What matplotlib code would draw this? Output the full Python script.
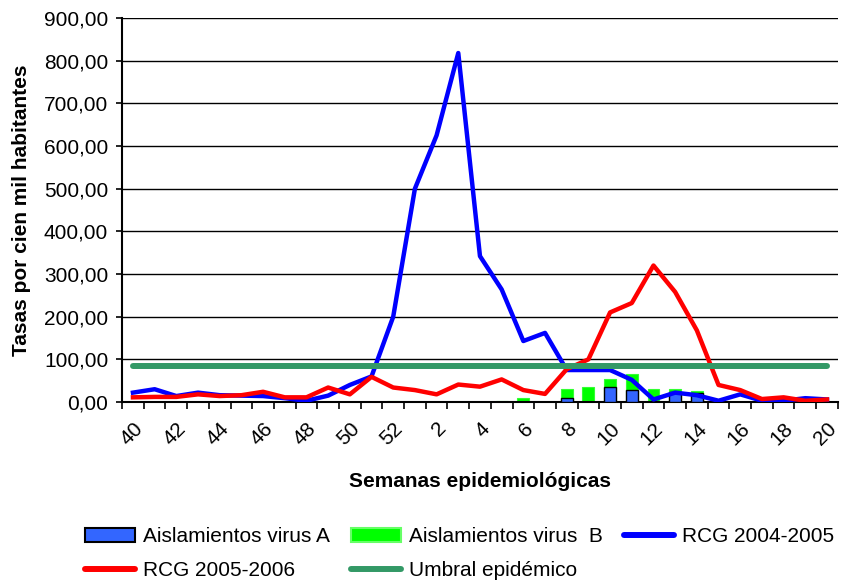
#Tasas de RCG por semana epidemiologica y aislamientos de virus

#Importing libraries:
import numpy as np
import matplotlib
matplotlib.use("Agg")
import matplotlib.pyplot as plt
from matplotlib.patches import Patch
from matplotlib.lines import Line2D
from matplotlib.ticker import FuncFormatter, FixedLocator

#Font selection (Arial look-alike).
font = {'family': 'Liberation Sans',
        'weight': 'normal',
        'size': 15}
matplotlib.rc('font', **font)

#Data.
semanas = [40, 41, 42, 43, 44, 45, 46, 47, 48, 49, 50, 51, 52,
           1, 2, 3, 4, 5, 6, 7, 8, 9, 10, 11, 12, 13, 14, 15, 16, 17, 18, 19, 20]

rcg_0405 = [22, 30, 14, 22, 16, 15, 14, 9, 3, 15, 40, 60, 200,
            500, 625, 818, 342, 264, 143, 162, 75, 75, 75, 52, 6, 22, 16, 3, 18, 3, 3, 9, 6]

rcg_0506 = [11, 12, 12, 18, 14, 16, 24, 11, 11, 34, 18, 59, 34,
            28, 18, 41, 36, 53, 28, 19, 77, 100, 210, 232, 320, 258, 168, 40, 28, 7, 11, 3, 6]

virus_a = [0, 0, 0, 0, 0, 0, 0, 0, 0, 0, 0, 0, 0,
           0, 0, 0, 0, 0, 0, 0, 9, 0, 36, 28, 0, 24, 20, 0, 0, 0, 0, 0, 0]

virus_b = [0, 0, 0, 0, 0, 0, 0, 0, 0, 0, 0, 0, 3,
           0, 0, 0, 0, 3, 9, 0, 30, 36, 54, 65, 30, 30, 26, 0, 0, 0, 0, 0, 0]

umbral = 85

x = np.arange(len(semanas))
umbral_line = np.full(len(semanas), umbral)

#Plotting Block:
fig = plt.figure(figsize=(8.48, 5.84), dpi=100)
ax = fig.add_axes([0.144, 0.3116, 0.844, 0.6575])

ax.bar(x, virus_b, width=0.55, color='#00FF00', edgecolor='#33FF33', linewidth=0.8, zorder=2)
ax.bar(x, virus_a, width=0.55, color='#3366FF', edgecolor='black', linewidth=1.0, zorder=3)
ax.plot(x, rcg_0405, color='#0000FF', linewidth=3.2, zorder=4)
ax.plot(x, rcg_0506, color='#FF0000', linewidth=3.2, zorder=5)
ax.plot(x, umbral_line, color='#339966', linewidth=4.3, solid_capstyle='round', zorder=6)

#Axes
ax.set_xlim(-0.5, len(semanas) - 0.5)
ax.set_ylim(0, 900)
ax.set_yticks(np.arange(0, 901, 100))
ax.yaxis.set_major_formatter(FuncFormatter(lambda v, p: f"{v:.2f}".replace('.', ',')))
ax.yaxis.grid(True, color='black', linewidth=1.0, zorder=1)
ax.set_axisbelow(True)

ax.set_xticks(x[::2])
ax.set_xticklabels([str(s) for s in semanas[::2]], rotation=45, ha='right', va='top',
                   rotation_mode='anchor')
ax.xaxis.set_minor_locator(FixedLocator(np.arange(-0.5, len(semanas), 1)))
ax.tick_params(axis='x', which='major', length=0, pad=12)
ax.tick_params(axis='x', which='minor', length=5, width=1.2, direction='out')
ax.tick_params(axis='y', length=4, width=1.2, direction='out', pad=6)

for s in ['top', 'right']:
    ax.spines[s].set_visible(False)
for s in ['left', 'bottom']:
    ax.spines[s].set_linewidth(1.5)

ax.set_ylabel("Tasas por cien mil habitantes", fontweight='bold', fontsize=15, labelpad=9)
ax.set_xlabel("Semanas epidemiológicas", fontweight='bold', fontsize=15, labelpad=17)

#Legend (ordered so it reads row by row)
h_a = Patch(facecolor='#3366FF', edgecolor='black', linewidth=1.5)
h_b = Patch(facecolor='#00FF00', edgecolor='#66FF66', linewidth=1.5)
h_0405 = Line2D([], [], color='#0000FF', linewidth=4.3, solid_capstyle='round')
h_0506 = Line2D([], [], color='#FF0000', linewidth=4.3, solid_capstyle='round')
h_umb = Line2D([], [], color='#339966', linewidth=4.3, solid_capstyle='round')

fig.legend([h_a, h_0506, h_b, h_umb, h_0405],
           ["Aislamientos virus A", "RCG 2005-2006", "Aislamientos virus  B",
            "Umbral epidémico", "RCG 2004-2005"],
           ncol=3, loc='upper left', bbox_to_anchor=(0.100, 0.097), frameon=False,
           handlelength=2.4, handleheight=0.6, handletextpad=0.4,
           columnspacing=1.0, labelspacing=0.68, borderpad=0, borderaxespad=0,
           fontsize=15)

plt.savefig("out.png", dpi=100)
